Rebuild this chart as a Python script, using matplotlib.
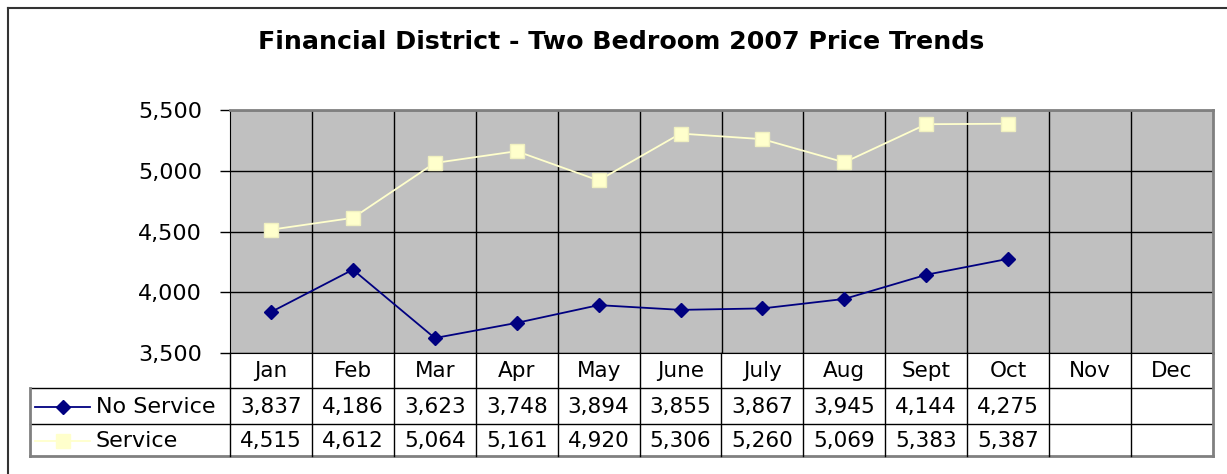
import numpy as np
import matplotlib
matplotlib.use("Agg")
import matplotlib.pyplot as plt
from matplotlib.lines import Line2D
from matplotlib.ticker import FuncFormatter

plt.rcParams['font.family'] = ['DejaVu Sans']

months = ["Jan", "Feb", "Mar", "Apr", "May", "June", "July", "Aug",
          "Sept", "Oct", "Nov", "Dec"]
no_service = [3837, 4186, 3623, 3748, 3894, 3855, 3867, 3945, 4144, 4275]
service = [4515, 4612, 5064, 5161, 4920, 5306, 5260, 5069, 5383, 5387]
series_names = ["No Service", "Service"]
title = "Financial District - Two Bedroom 2007 Price Trends"

W, H = 1227, 474
fig = plt.figure(figsize=(W / 100, H / 100), dpi=100)


def box(x0, y0, x1, y1):
    return [x0 / W, 1 - y1 / H, (x1 - x0) / W, (y1 - y0) / H]


NAVY = "#000080"
PALE = "#FFFFCC"
GRAY = "#808080"

# outer chart frame
fig.add_artist(Line2D([8 / W, 1], [1 - 8 / H, 1 - 8 / H], color="#333333", lw=1.5))
fig.add_artist(Line2D([8 / W, 8 / W], [0, 1 - 8 / H], color="#333333", lw=1.5))

fig.text(621 / W, 1 - 42 / H, title, ha="center", va="center",
         fontsize=18.2, fontweight="bold")

# plot area
ax = fig.add_axes(box(230, 110, 1213, 353))
ax.set_facecolor("#C0C0C0")
ncol = len(months)
ax.set_xlim(0, ncol)
ax.set_ylim(3500, 5500)
ax.set_yticks(np.arange(3500, 5501, 500))
ax.yaxis.set_major_formatter(FuncFormatter(lambda v, p: f"{int(v):,}"))
ax.set_xticks(np.arange(1, ncol))
ax.grid(True, color="black", lw=1.0)
ax.set_axisbelow(True)
ax.tick_params(axis="x", length=0, labelbottom=False)
ax.tick_params(axis="y", direction="out", length=7, width=1, labelsize=16, pad=13)
for side in ("top", "right"):
    ax.spines[side].set_color(GRAY)
    ax.spines[side].set_linewidth(2)
ax.spines["left"].set_color("black")
ax.spines["bottom"].set_color("black")

xs_ns = np.arange(len(no_service)) + 0.5
xs_s = np.arange(len(service)) + 0.5
ax.plot(xs_s, service, color=PALE, lw=1.3, marker="s", markersize=10,
        markerfacecolor=PALE, markeredgecolor="#F0F0C0", clip_on=False)
ax.plot(xs_ns, no_service, color=NAVY, lw=1.3, marker="D", markersize=7,
        markerfacecolor=NAVY, markeredgecolor=NAVY, clip_on=False)

# data table below the plot
colw = (1213 - 230) / ncol
tax = fig.add_axes(box(30, 353, 1213, 456))
left = -(230 - 30) / colw
tax.set_xlim(left, ncol)
tax.set_ylim(456, 353)
tax.axis("off")
rows = [353, 388, 424, 456]
for y in rows[1:3]:
    tax.plot([left, ncol], [y, y], color="black", lw=1, clip_on=False)
tax.plot([left, left], [rows[1], rows[3]], color=GRAY, lw=2, clip_on=False)
tax.plot([left, ncol], [rows[3], rows[3]], color=GRAY, lw=2, clip_on=False)
tax.plot([ncol, ncol], [rows[0], rows[3]], color=GRAY, lw=2, clip_on=False)
for i in range(ncol):
    tax.plot([i, i], [rows[0], rows[3]], color="black", lw=1, clip_on=False)

fs = 15.5
for i, m in enumerate(months):
    tax.text(i + 0.5, (rows[0] + rows[1]) / 2 + 1, m, ha="center", va="center", fontsize=fs)

row_vals = [no_service, service]
styles = [dict(color=NAVY, marker="D", ms=7, mfc=NAVY, mec=NAVY),
          dict(color=PALE, marker="s", ms=10, mfc=PALE, mec=PALE)]
for r, (name, vals, st) in enumerate(zip(series_names, row_vals, styles)):
    yc = (rows[r + 1] + rows[r + 2]) / 2 + 1
    key_x0 = left + 5 / colw
    key_x1 = left + 60 / colw
    tax.plot([key_x0, key_x1], [yc, yc], color=st["color"], lw=1.3, clip_on=False)
    tax.plot([(key_x0 + key_x1) / 2], [yc], color=st["color"], marker=st["marker"],
             markersize=st["ms"], markerfacecolor=st["mfc"], markeredgecolor=st["mec"],
             clip_on=False)
    tax.text(left + 66 / colw, yc, name, ha="left", va="center", fontsize=16)
    for i, v in enumerate(vals):
        tax.text(i + 0.5, yc, f"{v:,}", ha="center", va="center", fontsize=fs)

fig.savefig("out.png", dpi=100)
